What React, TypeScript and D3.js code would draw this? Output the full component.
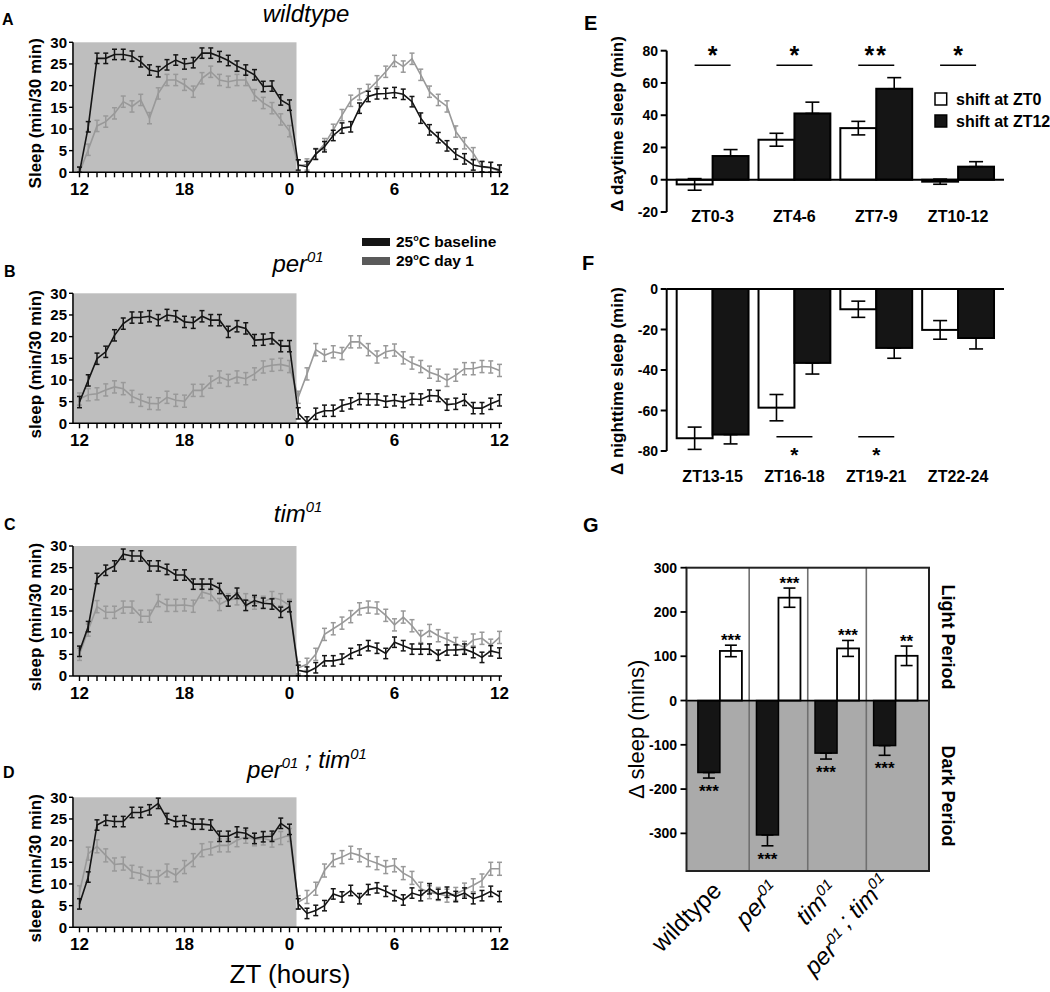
import React from "react";
import * as d3 from "d3";

// ---------- Panels A-D: sleep per 30-min bin, ZT12 -> ZT12 ----------
const ZT_TICK_LABELS = ["12", "18", "0", "6", "12"];
const ZT_TICK_BINS = [0, 12, 24, 36, 48];
const BIN_INDEX = d3.range(49);

const wtBaseline = [0, 10.5, 26.3, 26.3, 27.2, 27.2, 26.8, 25.5, 23.6, 23.2, 24.8, 25.9, 25, 25.3, 27.5, 27.5, 26.7, 25.8, 24.5, 23.6, 22.5, 19.8, 19.9, 16.7, 15.5, 1.7, 1.3, 4.2, 5.9, 8.5, 10.2, 10.5, 14.8, 17.5, 18.1, 18.2, 18.4, 18, 16.3, 12.5, 9.8, 8, 6.1, 4.2, 3.1, 1.7, 1.3, 1.1, 0.5];
const wtHeat = [0, 5.2, 10.7, 11.7, 13.6, 16.3, 15.2, 16.7, 12.5, 18.2, 21.3, 21.3, 20.2, 18.6, 21.7, 23.2, 21.3, 20.9, 21.3, 21.3, 17.8, 16, 14.8, 12.2, 9.5, 1.5, 1.8, 4.2, 6.5, 9.8, 13.2, 16.5, 18, 19, 21, 23.2, 25.7, 24.4, 26.2, 22.5, 18.6, 16.7, 15.2, 9.4, 6.7, 4.4, 1.2, 1, 0.3];
const perBaseline = [4.9, 9.9, 14.9, 16.5, 20.3, 23, 24.4, 24.4, 24.7, 23.8, 25, 24.7, 23.4, 23.2, 24.7, 23.8, 23.8, 21.1, 22.4, 21.9, 19.2, 19.3, 19.6, 17.8, 17.8, 2.3, 0.2, 2.2, 2.9, 2.9, 4.1, 4.6, 5.6, 5.5, 5.5, 5, 5.3, 4.9, 5.6, 5.5, 6.4, 6.3, 4.3, 4.5, 5.4, 3.5, 3.5, 4.5, 5.3];
const perHeat = [5.6, 6.6, 6.8, 7.7, 8.4, 8, 6.2, 5.3, 4.6, 4.5, 6, 5.3, 5.1, 7.6, 7.6, 9.5, 10.7, 9.9, 10.7, 10.3, 11.4, 13, 13.4, 13.6, 13.1, 6, 11.4, 17, 15.7, 16.5, 16.1, 18.8, 18.8, 17, 15.3, 16.5, 16.9, 15.1, 13.9, 13.1, 11.8, 11.1, 9.9, 11.1, 12.6, 12.6, 13.1, 13, 12.2];
const timBaseline = [5.7, 11.4, 22.5, 24.4, 25.4, 28.1, 27.7, 27.7, 25.4, 25.4, 24.6, 23.3, 23.3, 21.2, 21.2, 21.2, 20.2, 17.3, 19.1, 16.3, 17.4, 16.8, 16.6, 14.7, 16, 1.3, 0.9, 1.9, 3.5, 3.5, 3.9, 5.2, 6, 7, 6.4, 5.2, 7.8, 7, 6.2, 6.2, 6.2, 4.8, 6, 6, 6.2, 5.4, 4.3, 5.8, 5.3];
const timHeat = [5, 10.6, 16, 14.7, 14.7, 15.9, 15.9, 13.8, 13.8, 17.4, 16.3, 16.3, 16.4, 16.1, 19.4, 18.8, 16.5, 17.6, 17.8, 17.6, 16.8, 17, 18.1, 17.6, 16.3, 1.9, 2.7, 5, 9.6, 10.9, 12.2, 13.7, 15.5, 15.9, 15.7, 14, 11.8, 13.6, 11.6, 9.1, 10.5, 9.3, 8.5, 7.5, 6.6, 8.3, 8.7, 7.1, 8.9];
const dblBaseline = [5.4, 11.6, 23.6, 24.7, 24.4, 24.4, 26.5, 26.5, 27.1, 28.6, 25.1, 24.4, 24.6, 23.8, 23.8, 23.6, 21, 21, 22, 21.7, 20.5, 20.9, 21, 24, 22.6, 5.4, 3.2, 3.9, 5, 7.7, 7, 8.5, 6.6, 8.7, 9.1, 8.3, 7.3, 6.3, 7.9, 7.3, 8.9, 7.6, 8.1, 7.1, 7.9, 6.6, 7.3, 8.3, 7.1];
const dblHeat = [8.1, 17, 18.7, 16.6, 14.5, 14.7, 12.8, 12.4, 11.6, 11.6, 13.1, 12, 13.9, 15.5, 17.8, 18.2, 18.9, 18.9, 20.1, 20.9, 20.3, 20.5, 20, 20.6, 21.3, 5.8, 7, 8.9, 13.1, 15.5, 16.2, 17.2, 16.6, 15.5, 14.8, 13.9, 14.3, 12.5, 11.4, 8.9, 8.1, 7.7, 7.3, 7.7, 8.7, 9.7, 10.8, 13.5, 13.5];
const semBaseline = [1.2, 1.3, 1.2, 1.2];
const semHeat = [1.3, 1.4, 1.4, 1.5];
const legendLabels = ["25", "29"];

// ---------- Panel E ----------
const dayBins = ["ZT0-3", "ZT4-6", "ZT7-9", "ZT10-12"];
const dayShift0 = [-2.9, 24.8, 32, -1.2];
const dayShift0Err = [3.6, 4, 4.2, 1.6];
const dayShift12 = [14.7, 41.1, 56.4, 8.1];
const dayShift12Err = [4, 7, 6.9, 3.1];
const daySig = ["*", "*", "**", "*"];
const dayTicks = [-20, 0, 20, 40, 60, 80];

// ---------- Panel F ----------
const nightBins = ["ZT13-15", "ZT16-18", "ZT19-21", "ZT22-24"];
const nightShift0 = [-73.7, -58.6, -10, -20.2];
const nightShift0Err = [5.5, 6.5, 4, 4.6];
const nightShift12 = [-71.9, -36.5, -29.1, -24.2];
const nightShift12Err = [4.6, 5.5, 5.1, 5.4];
const nightSig = ["", "*", "*", ""];
const nightTicks = [-80, -60, -40, -20, 0];

// ---------- Panel G ----------
const genotypes = ["wildtype", "per01", "tim01", "per01;tim01"];
const darkDelta = [-162.6, -303.6, -118.8, -101.7];
const darkErr = [12.5, 24.5, 13.4, 22];
const lightDelta = [112, 232.3, 117.7, 101];
const lightErr = [13, 21.7, 18, 22];
const darkSig = ["***", "***", "***", "***"];
const lightSig = ["***", "***", "***", "**"];
const gTicks = [-300, -200, -100, 0, 100, 200, 300];

const FONT = "'Liberation Sans', Arial, Helvetica, sans-serif";
const BLACK = "#151515";
const GRAYLINE = "#999999";

function Sup({ base, sup, size }: { base: string; sup: string; size: number }) {
  return (
    <>
      <tspan>{base}</tspan>
      <tspan fontSize={size * 0.62} dy={-size * 0.4}>{sup}</tspan>
      <tspan dy={size * 0.4}>{""}</tspan>
    </>
  );
}

function SleepPanel({
  y30, baseline, heat, semB, semH, yLabel,
}: { y30: number; baseline: number[]; heat: number[]; semB: number; semH: number; yLabel: string }) {
  const x = d3.scaleLinear().domain([0, 48]).range([79.5, 499.5]);
  const y = d3.scaleLinear().domain([0, 30]).range([y30 + 130, y30]);
  const line = d3.line<number>().x((_, i) => x(BIN_INDEX[i])).y((d) => y(d));
  const series = [
    { data: heat, color: GRAYLINE, sem: semH },
    { data: baseline, color: BLACK, sem: semB },
  ];
  const axisX = 73;
  return (
    <g>
      <rect x={axisX + 1} y={y(30)} width={x(24.8) - axisX - 1} height={y(0) - y(30)} fill="#bebebe" />
      {series.map((s, si) => (
        <g key={si}>
          <path d={line(s.data) || ""} fill="none" stroke={s.color} strokeWidth={1.6} />
          {s.data.map((v, i) => {
            const lo = Math.max(0, v - s.sem);
            const hi = Math.min(30, v + s.sem);
            const cx = x(BIN_INDEX[i]);
            return (
              <g key={i} stroke={s.color} strokeWidth={1.5}>
                <line x1={cx} x2={cx} y1={y(lo)} y2={y(hi)} />
                <line x1={cx - 2.5} x2={cx + 2.5} y1={y(lo)} y2={y(lo)} />
                <line x1={cx - 2.5} x2={cx + 2.5} y1={y(hi)} y2={y(hi)} />
              </g>
            );
          })}
        </g>
      ))}
      {/* y axis */}
      <line x1={axisX} x2={axisX} y1={y(30)} y2={y(0)} stroke="#000" strokeWidth={1.6} />
      {y.ticks(6).map((t) => (
        <g key={t}>
          <line x1={axisX - 4} x2={axisX} y1={y(t)} y2={y(t)} stroke="#000" strokeWidth={1.4} />
          <text x={axisX - 6} y={y(t)} dy="0.36em" textAnchor="end" fontSize={15} fontWeight="bold">{t}</text>
        </g>
      ))}
      {/* x axis */}
      <line x1={axisX} x2={502} y1={y(0)} y2={y(0)} stroke="#000" strokeWidth={1.6} />
      {BIN_INDEX.map((i) => (
        <line key={i} x1={x(i)} x2={x(i)} y1={y(0)} y2={y(0) + 5} stroke="#000" strokeWidth={1.4} />
      ))}
      {ZT_TICK_BINS.map((b, k) => (
        <text key={k} x={x(b)} y={y(0) + 23} textAnchor="middle" fontSize={17} fontWeight="bold">{ZT_TICK_LABELS[k]}</text>
      ))}
      <text transform={`translate(41,${(y(0) + y(30)) / 2 + 6}) rotate(-90)`} textAnchor="middle" fontSize={17} fontWeight="bold">{yLabel}</text>
    </g>
  );
}

function ErrBar({ x, y1, y2, w }: { x: number; y1: number; y2: number; w: number }) {
  return (
    <g stroke="#000" strokeWidth={1.6}>
      <line x1={x} x2={x} y1={y1} y2={y2} />
      <line x1={x - w} x2={x + w} y1={y1} y2={y1} />
      <line x1={x - w} x2={x + w} y1={y2} y2={y2} />
    </g>
  );
}

function PanelE() {
  const xE = d3.scaleBand<string>().domain(dayBins).range([666.7, 1004]).paddingInner(0.122).paddingOuter(0.122);
  const sub = d3.scaleBand<string>().domain(["0", "12"]).range([0, xE.bandwidth()]);
  const yE = d3.scaleLinear().domain([-20, 80]).range([212, 50.7]);
  const bw = sub.bandwidth();
  return (
    <g>
      {dayBins.map((c, i) => {
        const x0 = (xE(c) as number) + (sub("0") as number);
        const x1 = (xE(c) as number) + (sub("12") as number);
        const v0 = dayShift0[i];
        const v1 = dayShift12[i];
        return (
          <g key={c}>
            <rect x={x0} y={Math.min(yE(v0), yE(0))} width={bw} height={Math.abs(yE(v0) - yE(0))} fill="#fff" stroke="#000" strokeWidth={2} />
            <rect x={x1} y={Math.min(yE(v1), yE(0))} width={bw} height={Math.abs(yE(v1) - yE(0))} fill={BLACK} stroke="#000" strokeWidth={2} />
            <ErrBar x={x0 + bw / 2} y1={yE(v0 - dayShift0Err[i])} y2={yE(v0 + dayShift0Err[i])} w={7} />
            <ErrBar x={x1 + bw / 2} y1={yE(v1)} y2={yE(v1 + dayShift12Err[i])} w={7} />
            <line x1={(xE(c) as number) + xE.bandwidth() / 2 - 18} x2={(xE(c) as number) + xE.bandwidth() / 2 + 18} y1={65.3} y2={65.3} stroke="#000" strokeWidth={1.6} />
            <text x={(xE(c) as number) + xE.bandwidth() / 2} y={64} textAnchor="middle" fontSize={25} fontWeight="bold" letterSpacing={daySig[i].length > 1 ? 2 : 0}>{daySig[i]}</text>
            <text x={(xE(c) as number) + xE.bandwidth() / 2} y={222} textAnchor="middle" fontSize={16} fontWeight="bold">{c}</text>
          </g>
        );
      })}
      <line x1={666.7} x2={1004} y1={yE(0)} y2={yE(0)} stroke="#000" strokeWidth={2} />
      <line x1={666.7} x2={666.7} y1={yE(80)} y2={yE(-20)} stroke="#000" strokeWidth={2} />
      {dayTicks.map((t) => (
        <g key={t}>
          <line x1={660.7} x2={666.7} y1={yE(t)} y2={yE(t)} stroke="#000" strokeWidth={2} />
          <text x={658} y={yE(t)} dy="0.36em" textAnchor="end" fontSize={14} fontWeight="bold">{t}</text>
        </g>
      ))}
      <text transform="translate(623,124) rotate(-90)" textAnchor="middle" fontSize={17} fontWeight="bold">Δ daytime sleep (min)</text>
      {/* legend */}
      <rect x={935} y={93} width={11.7} height={12} fill="#fff" stroke="#000" strokeWidth={1.5} />
      <text x={956} y={104.5} fontSize={16} fontWeight="bold">shift at ZT0</text>
      <rect x={935} y={115} width={11.7} height={12} fill={BLACK} stroke="#000" strokeWidth={1.5} />
      <text x={956} y={126.5} fontSize={16} fontWeight="bold">shift at ZT12</text>
    </g>
  );
}

function PanelF() {
  const xF = d3.scaleBand<string>().domain(nightBins).range([666.7, 1004]).paddingInner(0.122).paddingOuter(0.122);
  const sub = d3.scaleBand<string>().domain(["0", "12"]).range([0, xF.bandwidth()]);
  const yF = d3.scaleLinear().domain([-80, 0]).range([451, 289]);
  const bw = sub.bandwidth();
  return (
    <g>
      {nightBins.map((c, i) => {
        const x0 = (xF(c) as number) + (sub("0") as number);
        const x1 = (xF(c) as number) + (sub("12") as number);
        const v0 = nightShift0[i];
        const v1 = nightShift12[i];
        const cx = (xF(c) as number) + xF.bandwidth() / 2;
        return (
          <g key={c}>
            <rect x={x0} y={yF(0)} width={bw} height={yF(v0) - yF(0)} fill="#fff" stroke="#000" strokeWidth={2} />
            <rect x={x1} y={yF(0)} width={bw} height={yF(v1) - yF(0)} fill={BLACK} stroke="#000" strokeWidth={2} />
            <ErrBar x={x0 + bw / 2} y1={yF(v0 - nightShift0Err[i])} y2={yF(v0 + nightShift0Err[i])} w={7} />
            <ErrBar x={x1 + bw / 2} y1={yF(v1 - nightShift12Err[i])} y2={yF(v1)} w={7} />
            {nightSig[i] && (
              <>
                <line x1={cx - 18} x2={cx + 18} y1={436.7} y2={436.7} stroke="#000" strokeWidth={1.6} />
                <text x={cx} y={461.5} textAnchor="middle" fontSize={21} fontWeight="bold">{nightSig[i]}</text>
              </>
            )}
            <text x={cx} y={481.5} textAnchor="middle" fontSize={16} fontWeight="bold">{c}</text>
          </g>
        );
      })}
      <line x1={666.7} x2={1004} y1={yF(0)} y2={yF(0)} stroke="#000" strokeWidth={2} />
      <line x1={666.7} x2={666.7} y1={yF(0)} y2={yF(-80)} stroke="#000" strokeWidth={2} />
      {nightTicks.map((t) => (
        <g key={t}>
          <line x1={660.7} x2={666.7} y1={yF(t)} y2={yF(t)} stroke="#000" strokeWidth={2} />
          <text x={658} y={yF(t)} dy="0.36em" textAnchor="end" fontSize={14} fontWeight="bold">{t}</text>
        </g>
      ))}
      <text transform="translate(623,381) rotate(-90)" textAnchor="middle" fontSize={17} fontWeight="bold">Δ nighttime sleep (min)</text>
    </g>
  );
}

function GenotypeLabel({ g, size }: { g: string; size: number }) {
  if (g === "wildtype") return <tspan>wildtype</tspan>;
  if (g === "per01") return <tspan fontStyle="italic"><Sup base="per" sup="01" size={size} /></tspan>;
  if (g === "tim01") return <tspan fontStyle="italic"><Sup base="tim" sup="01" size={size} /></tspan>;
  return (
    <tspan fontStyle="italic">
      <Sup base="per" sup="01" size={size} />
      <Sup base=" ; tim" sup="01" size={size} />
    </tspan>
  );
}

function PanelG() {
  const left = 686.5, right = 929, top = 567.7, bottom = 871;
  const xG = d3.scaleBand<string>().domain(genotypes).range([left, right]).paddingInner(0).paddingOuter(0.07);
  const yG = d3.scaleLinear().domain([-385, 300]).range([bottom, top]);
  const barW = 22;
  return (
    <g>
      <rect x={left} y={yG(0)} width={right - left} height={bottom - yG(0)} fill="#aaaaaa" />
      {genotypes.slice(1).map((g) => (
        <line key={g} x1={xG(g) as number} x2={xG(g) as number} y1={top} y2={bottom} stroke="#707070" strokeWidth={1.6} />
      ))}
      {genotypes.map((g, i) => {
        const cx = (xG(g) as number) + xG.bandwidth() / 2;
        const xb = cx - barW;
        const xw = cx;
        const vd = darkDelta[i];
        const vl = lightDelta[i];
        const capLo = yG(vd - darkErr[i]);
        const capHi = yG(vl + lightErr[i]);
        return (
          <g key={g}>
            <rect x={xb} y={yG(0)} width={barW} height={yG(vd) - yG(0)} fill={BLACK} stroke="#000" strokeWidth={1.5} />
            <rect x={xw} y={yG(vl)} width={barW} height={yG(0) - yG(vl)} fill="#fff" stroke="#000" strokeWidth={1.8} />
            <ErrBar x={xb + barW / 2} y1={yG(vd)} y2={capLo} w={6} />
            <ErrBar x={xw + barW / 2} y1={yG(vl - lightErr[i])} y2={capHi} w={6} />
            <text x={xw + barW / 2} y={capHi + 1} textAnchor="middle" fontSize={17} fontWeight="bold">{lightSig[i]}</text>
            <text x={xb + barW / 2} y={capLo + 19} textAnchor="middle" fontSize={17} fontWeight="bold">{darkSig[i]}</text>
            <text transform={`translate(${cx + 3},${892}) rotate(-45)`} textAnchor="end" fontSize={24}>
              <GenotypeLabel g={g} size={24} />
            </text>
          </g>
        );
      })}
      <line x1={left} x2={right} y1={yG(0)} y2={yG(0)} stroke="#000" strokeWidth={1.8} />
      <rect x={left} y={top} width={right - left} height={bottom - top} fill="none" stroke="#222" strokeWidth={2} />
      {gTicks.map((t) => (
        <g key={t}>
          <line x1={680.5} x2={left} y1={yG(t)} y2={yG(t)} stroke="#000" strokeWidth={1.8} />
          <text x={677} y={yG(t)} dy="0.36em" textAnchor="end" fontSize={14} fontWeight="bold">{t}</text>
        </g>
      ))}
      <text transform={`translate(644,${(top + bottom) / 2 + 10}) rotate(-90)`} textAnchor="middle" fontSize={22}>Δ sleep (mins)</text>
      <text transform={`translate(942,637) rotate(90)`} textAnchor="middle" fontSize={18} fontWeight="bold">Light Period</text>
      <text transform={`translate(942,796) rotate(90)`} textAnchor="middle" fontSize={18} fontWeight="bold">Dark Period</text>
    </g>
  );
}

export default function App() {
  const panels = [
    { y30: 42.3, baseline: wtBaseline, heat: wtHeat, yLabel: "Sleep (min/30 min)" },
    { y30: 293.3, baseline: perBaseline, heat: perHeat, yLabel: "sleep (min/30 min)" },
    { y30: 546, baseline: timBaseline, heat: timHeat, yLabel: "sleep (min/30 min)" },
    { y30: 797.3, baseline: dblBaseline, heat: dblHeat, yLabel: "sleep (min/30 min)" },
  ];
  return (
    <svg width={1050} height={992} style={{ position: "absolute", left: 0, top: 0, background: "#fff" }} fontFamily={FONT}>
      <rect x={0} y={0} width={1050} height={992} fill="#fff" />
      {panels.map((p, i) => (
        <SleepPanel key={i} y30={p.y30} baseline={p.baseline} heat={p.heat} semB={semBaseline[i]} semH={semHeat[i]} yLabel={p.yLabel} />
      ))}
      {/* letters */}
      <g fontSize={16} fontWeight="bold">
        <text x={2} y={25}>A</text>
        <text x={4} y={277}>B</text>
        <text x={4} y={530}>C</text>
        <text x={3} y={778}>D</text>
      </g>
      <g fontSize={20} fontWeight="bold">
        <text x={584} y={30}>E</text>
        <text x={582} y={270}>F</text>
        <text x={583} y={532}>G</text>
      </g>
      {/* titles */}
      <g fontSize={24} fontStyle="italic" textAnchor="middle">
        <text x={306} y={22}>wildtype</text>
        <text x={298} y={272}><Sup base="per" sup="01" size={24} /></text>
        <text x={298} y={522}><Sup base="tim" sup="01" size={24} /></text>
        <text x={307} y={778}><Sup base="per" sup="01" size={24} /><Sup base=" ; tim" sup="01" size={24} /></text>
      </g>
      {/* legend */}
      <rect x={362} y={238} width={28} height={8} fill={BLACK} />
      <rect x={362} y={257} width={28} height={8} fill="#5a5a5a" />
      <g fontSize={15.5} fontWeight="bold">
        <text x={396} y={247}>{legendLabels[0]}<tspan fontSize={9} dy={-6}>o</tspan><tspan dy={6}>C baseline</tspan></text>
        <text x={396} y={266}>{legendLabels[1]}<tspan fontSize={9} dy={-6}>o</tspan><tspan dy={6}>C day 1</tspan></text>
      </g>
      <text x={290} y={983} textAnchor="middle" fontSize={26}>ZT (hours)</text>
      <PanelE />
      <PanelF />
      <PanelG />
    </svg>
  );
}
